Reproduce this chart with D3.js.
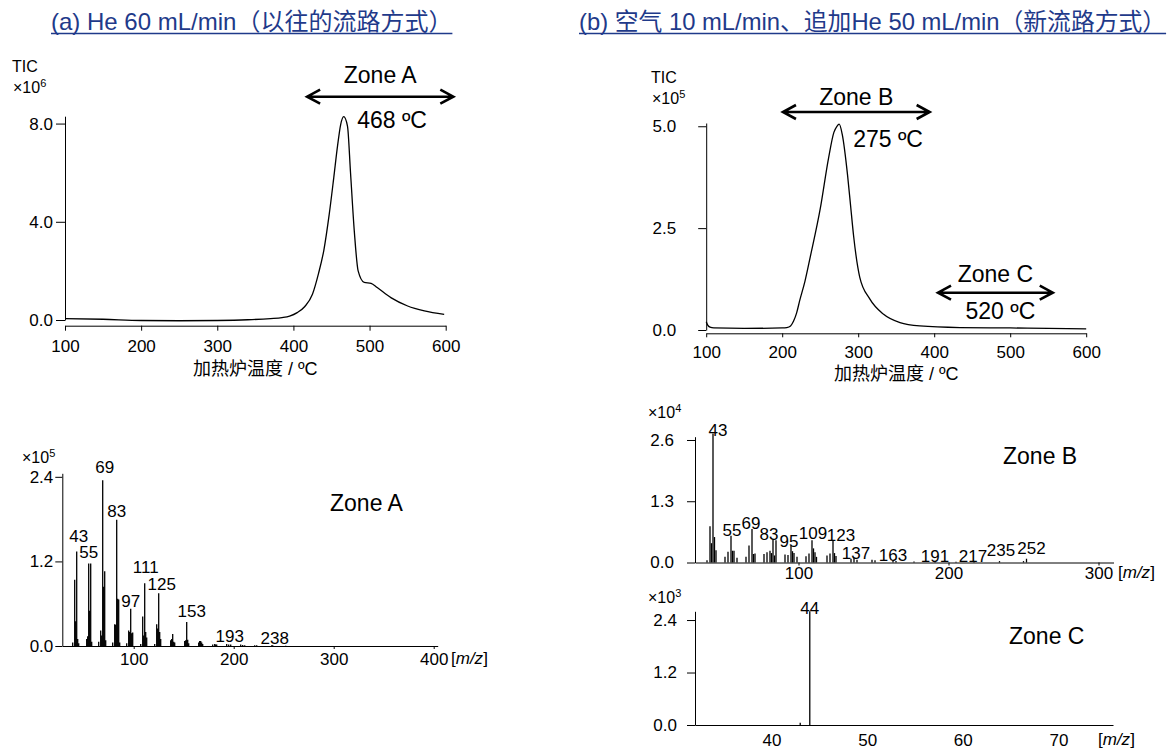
<!DOCTYPE html>
<html>
<head>
<meta charset="utf-8">
<script src="https://cdn.jsdelivr.net/npm/d3@7"></script>
<style>
body { margin: 0; background: #fff; }
text { font-family: "Liberation Sans", Arial, "Noto Sans CJK SC", sans-serif; fill: #000; }
.axis path, .axis line { stroke: #000; stroke-width: 1; }
.axis text { font-size: 17px; fill: #000; }
</style>
</head>
<body>
<script>
// ---- data ----
var titleA = "(a) He 60 mL/min（以往的流路方式）";
var titleB = "(b) 空气 10 mL/min、追加He 50 mL/min（新流路方式）";
var tempLabel = "加热炉温度 / ºC";

// TIC (a), x10^6
var tempA = [100, 150, 200, 250, 300, 340, 370, 385, 395, 405, 415, 425, 433, 440, 447, 453, 458, 462, 466, 471, 475, 480, 485, 493, 502, 510, 528, 550, 572, 598];
var ticA  = [0.06, 0.03, -0.02, -0.03, -0.02, 0.01, 0.06, 0.1, 0.16, 0.3, 0.55, 1.05, 1.9, 2.85, 4.3, 5.8, 7.1, 7.95, 8.28, 7.9, 6.0, 3.6, 2.0, 1.53, 1.49, 1.32, 0.91, 0.57, 0.37, 0.23];

// TIC (b), x10^5
var tempB = [100, 102, 105, 110, 150, 200, 206, 211, 215, 219, 223, 230, 237, 250, 261, 268, 272, 275, 279, 286, 290, 294, 302, 315, 333, 355, 381, 434, 500, 550, 600];
var ticB  = [0.2, 0.12, 0.07, 0.05, 0.04, 0.05, 0.06, 0.1, 0.22, 0.42, 0.72, 1.2, 1.8, 2.97, 4.22, 4.85, 5.0, 5.05, 4.8, 3.8, 3.05, 2.3, 1.3, 0.77, 0.39, 0.18, 0.1, 0.06, 0.05, 0.04, 0.03];

var tempTicks = [100, 200, 300, 400, 500, 600];
var ticTicksA = [0, 4, 8];
var ticTicksB = [0, 2.5, 5];

// zones (temperature ranges of the arrows) and peak temperatures
var zoneNames = ["Zone A", "Zone B", "Zone C"];
var zoneRanges = [[418, 610], [201, 394], [405, 556]];
var peakTemps = ["468 ºC", "275 ºC", "520 ºC"];

// mass spectrum, zone A, x10^5
var mzA  = [39, 41, 42, 43, 44, 45, 53, 54, 55, 56, 57, 58, 65, 67, 68, 69, 70, 71, 72, 79, 81, 82, 83, 84, 85, 86,
            93, 95, 96, 97, 98, 99, 107, 109, 110, 111, 112, 113, 121, 123, 124, 125, 126, 127, 137, 138, 139, 140, 141,
            151, 152, 153, 154, 155, 165, 166, 167, 168, 169, 179, 181, 182, 183, 193, 195, 197, 207, 209, 211, 221, 223, 238, 239, 252];
var intA = [0.05, 0.94, 0.35, 1.34, 0.1, 0.04, 0.1, 0.14, 1.17, 0.5, 1.17, 0.06, 0.06, 0.22, 0.15, 2.35, 0.84, 1.06, 0.08, 0.05, 0.31, 0.3, 1.79, 0.67, 0.66, 0.05,
            0.04, 0.22, 0.2, 0.53, 0.18, 0.19, 0.03, 0.42, 0.15, 0.89, 0.2, 0.12, 0.03, 0.31, 0.25, 0.75, 0.2, 0.1, 0.08, 0.1, 0.17, 0.06, 0.05,
            0.07, 0.08, 0.34, 0.09, 0.04, 0.05, 0.07, 0.07, 0.05, 0.03, 0.02, 0.03, 0.02, 0.02, 0.03, 0.02, 0.02, 0.02, 0.015, 0.01, 0.01, 0.01, 0.01, 0.01, 0.005];
var peaksA = [43, 55, 69, 83, 97, 111, 125, 153, 193, 238];

// mass spectrum, zone B, x10^4
var mzB  = [39, 41, 42, 43, 44, 45, 51, 53, 55, 56, 57, 59, 65, 67, 69, 70, 71, 77, 79, 81, 82, 83, 84, 85,
            91, 93, 95, 96, 97, 99, 105, 107, 109, 110, 111, 112, 119, 121, 123, 124, 125, 135, 137, 139, 149, 151,
            163, 165, 177, 191, 205, 217, 234, 250, 252];
var intB = [0.05, 0.77, 0.41, 2.74, 0.54, 0.26, 0.12, 0.23, 0.57, 0.25, 0.25, 0.1, 0.12, 0.36, 0.71, 0.18, 0.19, 0.18, 0.22, 0.25, 0.2, 0.49, 0.15, 0.47,
            0.17, 0.16, 0.36, 0.24, 0.2, 0.12, 0.13, 0.19, 0.47, 0.3, 0.22, 0.12, 0.15, 0.19, 0.47, 0.2, 0.14, 0.08, 0.1, 0.06, 0.06, 0.05,
            0.04, 0.03, 0.02, 0.02, 0.015, 0.02, 0.03, 0.03, 0.08];
var peaksB = [43, 55, 69, 83, 95, 109, 123, 137, 163, 191, 217, 235, 252];

// mass spectrum, zone C, x10^3
var mzC  = [43, 44];
var intC = [0.05, 2.6];
var peaksC = [44];

var mzTicksA = [100, 200, 300, 400];
var mzTicksB = [100, 200, 300];
var mzTicksC = [40, 50, 60, 70];
var intTicksA = [0, 1.2, 2.4];
var intTicksB = [0, 1.3, 2.6];
var intTicksC = [0, 1.2, 2.4];

// ---- layout ----
var titleColor = "#1f3a8a";
var zoneSize = 23, peakLabelSize = 17;
// label nudges [dx, dy] relative to the top of each labelled peak
var nudgeA = {43: [2, -10], 55: [0, -6], 69: [2, -7], 83: [0, -3], 97: [0, -2], 111: [1, -10], 125: [3, -3], 153: [5, -5], 193: [3, -2], 238: [3, -1]};
var nudgeB = {43: [5, 3], 55: [1, 0], 69: [-1, 0], 83: [-4, 1], 95: [-2, 1], 109: [1, -1], 123: [8, 1], 137: [2, 1], 163: [0, 0], 191: [0, 0], 217: [-1, 0], 235: [0, -7], 252: [5, -5]};
var nudgeC = {44: [0, 3]};

var svg = d3.select("body").append("svg")
	.attr("width", 1172)
	.attr("height", 750);

function title(txt, x0, size) {
	var t = svg.append("text")
		.attr("x", x0)
		.attr("y", 30)
		.attr("font-size", size)
		.style("fill", titleColor)
		.text(txt);
	var w = t.node().getComputedTextLength();
	svg.append("line")
		.attr("x1", x0).attr("x2", x0 + w)
		.attr("y1", 33.5).attr("y2", 33.5)
		.style("stroke", titleColor)
		.style("stroke-width", 1.3);
}

function yAxis(y, ticks, x0, size, pad) {
	svg.append("g")
		.attr("class", "axis")
		.attr("transform", "translate(" + x0 + ",0)")
		.call(d3.axisLeft(y).tickValues(ticks).tickFormat(d3.format(".1f"))
			.tickSize(size).tickPadding(pad).tickSizeOuter(0));
}

function xAxis(x, ticks, y0, size, pad) {
	svg.append("g")
		.attr("class", "axis")
		.attr("transform", "translate(0," + y0 + ")")
		.call(d3.axisBottom(x).tickValues(ticks).tickFormat(d3.format("d"))
			.tickSize(size).tickPadding(pad).tickSizeOuter(0));
}

function label(txt, x0, y0, size, anchor) {
	return svg.append("text")
		.attr("x", x0)
		.attr("y", y0)
		.attr("font-size", size)
		.attr("text-anchor", anchor || "start")
		.text(txt);
}

function power(x0, y0, exp) {
	var t = label("×10", x0, y0, 16);
	t.append("tspan").attr("dy", -6).attr("font-size", 11).text(exp);
}

function mzUnit(x0, y0) {
	var t = label("[", x0, y0, 17);
	t.append("tspan").style("font-style", "italic").text("m/z");
	t.append("tspan").text("]");
}

function arrow(x1, x2, y0) {
	var h = 13, v = 7;
	svg.append("path")
		.attr("d", "M" + (x1 + h) + "," + (y0 - v) + "L" + x1 + "," + y0 + "L" + (x1 + h) + "," + (y0 + v) +
			"M" + x1 + "," + y0 + "L" + x2 + "," + y0 +
			"M" + (x2 - h) + "," + (y0 - v) + "L" + x2 + "," + y0 + "L" + (x2 - h) + "," + (y0 + v))
		.style("fill", "none")
		.style("stroke", "#000")
		.style("stroke-width", 2.6);
}

function ticCurve(x, y, temps, vals) {
	var line = d3.line()
		.x(function(d, i) { return x(temps[i]); })
		.y(function(d) { return y(d); })
		.curve(d3.curveMonotoneX);
	svg.append("path")
		.datum(vals)
		.attr("d", line)
		.style("fill", "none")
		.style("stroke", "#000")
		.style("stroke-width", 1.3);
}

function spectrum(x, y, mz, ints, peaks, nudge) {
	svg.append("g").selectAll("line")
		.data(mz)
		.enter().append("line")
		.attr("x1", function(d) { return x(d); })
		.attr("x2", function(d) { return x(d); })
		.attr("y1", y(0))
		.attr("y2", function(d, i) { return y(ints[i]); })
		.style("stroke", "#000")
		.style("stroke-width", 1.3);
	peaks.forEach(function(p) {
		var i = mz.indexOf(p);
		var v = i >= 0 ? ints[i] : 0;
		var n = nudge[p] || [0, 0];
		label(String(p), x(p) + n[0], y(v) + n[1], peakLabelSize, "middle");
	});
}

// ---- titles ----
title(titleA, 51, 24);
title(titleB, 579, 23.8);

// ---- TIC (a) ----
var xTa = d3.scaleLinear().domain([100, 600]).range([65, 445.7]);
var yTa = d3.scaleLinear().domain([0, 8.3]).range([320, 116.2]);
yAxis(yTa, ticTicksA, 65, 9, 3);
xAxis(xTa, tempTicks, 325.7, 5, 9);
ticCurve(xTa, yTa, tempA, ticA);
label("TIC", 12, 72, 16);
power(13, 93, "6");
label(tempLabel, (65 + 445.7) / 2, 375, 18, "middle");
arrow(xTa(zoneRanges[0][0]), xTa(zoneRanges[0][1]), 96.7);
label(zoneNames[0], (xTa(zoneRanges[0][0]) + xTa(zoneRanges[0][1])) / 2, 83, zoneSize, "middle");
label(peakTemps[0], xTa(468) + 12, 128, zoneSize);

// ---- TIC (b) ----
var xTb = d3.scaleLinear().domain([100, 600]).range([706.2, 1086.2]);
var yTb = d3.scaleLinear().domain([0, 5.08]).range([330, 123]);
yAxis(yTb, ticTicksB, 706.2, 8, 22);
xAxis(xTb, tempTicks, 333.3, 4, 9);
ticCurve(xTb, yTb, tempB, ticB);
label("TIC", 651, 83, 16);
power(652, 104, "5");
label(tempLabel, (706.2 + 1086.2) / 2, 380, 18, "middle");
arrow(xTb(zoneRanges[1][0]), xTb(zoneRanges[1][1]), 112);
label(zoneNames[1], (xTb(zoneRanges[1][0]) + xTb(zoneRanges[1][1])) / 2, 105, zoneSize, "middle");
label(peakTemps[1], xTb(275) + 14, 147, zoneSize);
arrow(xTb(zoneRanges[2][0]), xTb(zoneRanges[2][1]), 292.7);
label(zoneNames[2], (xTb(zoneRanges[2][0]) + xTb(zoneRanges[2][1])) / 2, 282, zoneSize, "middle");
label(peakTemps[2], (xTb(zoneRanges[2][0]) + xTb(zoneRanges[2][1])) / 2 + 5, 319, zoneSize, "middle");

// ---- spectrum zone A ----
var xSa = d3.scaleLinear().domain([28.6, 404]).range([62.3, 437.7]);
var ySa = d3.scaleLinear().domain([0, 2.45]).range([646, 473.3]);
spectrum(xSa, ySa, mzA, intA, peaksA, nudgeA);
yAxis(ySa, intTicksA, 62.3, 7, 2);
xAxis(xSa, mzTicksA, 646, 3, 4);
power(22, 463, "5");
mzUnit(451, 664);
label(zoneNames[0], 330, 511, zoneSize);

// ---- spectrum zone B ----
var xSb = d3.scaleLinear().domain([31, 310]).range([695, 1113.5]);
var ySb = d3.scaleLinear().domain([0, 2.67]).range([562.5, 436.7]);
spectrum(xSb, ySb, mzB, intB, peaksB, nudgeB);
yAxis(ySb, intTicksB, 695, 8, 13);
xAxis(xSb, mzTicksB, 562.5, 3, 1);
power(648, 418, "4");
mzUnit(1118, 578);
label(zoneNames[1], 1003, 464, zoneSize);

// ---- spectrum zone C ----
var xSc = d3.scaleLinear().domain([32, 75.7]).range([695, 1113]);
var ySc = d3.scaleLinear().domain([0, 2.6]).range([725, 611.3]);
spectrum(xSc, ySc, mzC, intC, peaksC, nudgeC);
yAxis(ySc, intTicksC, 695, 8, 10);
xAxis(xSc, mzTicksC, 725, 0, 9);
power(648, 603, "3");
mzUnit(1098, 745);
label(zoneNames[2], 1009, 644, zoneSize);
</script>
</body>
</html>
